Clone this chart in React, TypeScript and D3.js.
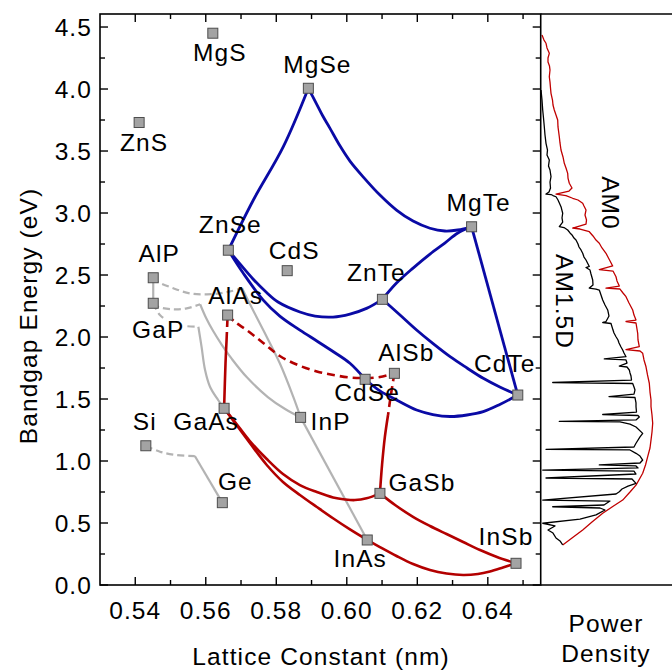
import React from "react";
import * as d3 from "d3";

type Pt = [number, number];

// Binary semiconductors: name, lattice constant (nm), bandgap (eV)
const compoundNames = ["MgS", "MgSe", "ZnS", "ZnSe", "CdS", "AlP", "GaP", "AlAs", "ZnTe", "MgTe", "CdTe", "AlSb", "CdSe", "GaSb", "InAs", "InSb", "InP", "GaAs", "Si", "Ge"];
const latticeConstants = [0.5620, 0.5891, 0.5411, 0.5664, 0.5831, 0.5451, 0.5451, 0.5662, 0.6101, 0.6354, 0.6485, 0.6135, 0.6052, 0.6094, 0.6058, 0.6480, 0.5869, 0.5652, 0.5430, 0.5647];
const bandgaps = [4.45, 4.006, 3.73, 2.70, 2.535, 2.478, 2.272, 2.177, 2.304, 2.889, 1.532, 1.707, 1.659, 0.739, 0.363, 0.175, 1.352, 1.425, 1.123, 0.664];

// Label placement relative to each marker (px): [dx, baseline dy]
const labelOffsets: Record<string, Pt> = {
  MgS: [7, 28], MgSe: [9, -15], ZnS: [5, 29], ZnSe: [2, -17], CdS: [7, -12],
  AlP: [6, -16], GaP: [5, 35], AlAs: [8, -11], ZnTe: [-6, -18], MgTe: [7, -16],
  CdTe: [-13, -23], AlSb: [12, -12], CdSe: [2, 22], GaSb: [42, -2], InAs: [-7, 27],
  InSb: [-10, -18], InP: [30, 13], GaAs: [-18, 22], Si: [-1, -16], Ge: [13, -13],
};

// II-VI alloys
const znSeMgSe: Pt[] = [[0.5664, 2.70], [0.5735, 3.105], [0.5820, 3.535], [0.5891, 4.006]];
const mgSeMgTe: Pt[] = [[0.5891, 4.006], [0.5913, 3.887], [0.5932, 3.782], [0.5952, 3.685], [0.5981, 3.540], [0.6009, 3.419], [0.6047, 3.290], [0.6094, 3.145], [0.6141, 3.024], [0.6188, 2.935], [0.6236, 2.877], [0.6278, 2.855], [0.6315, 2.863], [0.6354, 2.889]];
const znSeZnTe: Pt[] = [[0.5664, 2.70], [0.5697, 2.589], [0.5734, 2.468], [0.5771, 2.363], [0.5805, 2.282], [0.5867, 2.202], [0.5910, 2.169], [0.5961, 2.161], [0.6009, 2.185], [0.6056, 2.231], [0.6101, 2.304]];
const znTeMgTe: Pt[] = [[0.6101, 2.304], [0.6141, 2.435], [0.6188, 2.556], [0.6236, 2.669], [0.6278, 2.758], [0.6315, 2.839], [0.6354, 2.889]];
const znTeCdTe: Pt[] = [[0.6101, 2.304], [0.6151, 2.177], [0.6198, 2.056], [0.6244, 1.948], [0.6293, 1.841], [0.6341, 1.750], [0.6387, 1.667], [0.6434, 1.597], [0.6485, 1.532]];
const mgTeCdTe: Pt[] = [[0.6354, 2.889], [0.6485, 1.532]];
const znSeCdSe: Pt[] = [[0.5664, 2.70], [0.5706, 2.516], [0.5763, 2.298], [0.5810, 2.169], [0.5867, 2.056], [0.5915, 1.968], [0.5962, 1.881], [0.6009, 1.788], [0.6052, 1.659]];
const cdSeCdTe: Pt[] = [[0.6052, 1.659], [0.6094, 1.565], [0.6141, 1.492], [0.6198, 1.411], [0.6244, 1.375], [0.6293, 1.359], [0.6341, 1.371], [0.6387, 1.398], [0.6434, 1.456], [0.6485, 1.532]];

// III-V alloys (direct = solid, indirect = dashed)
const gaAsAlAsDirect: Pt[] = [[0.5652, 1.425], [0.5656, 1.788], [0.5659, 1.976]];
const gaAsAlAsIndirect: Pt[] = [[0.5659, 1.976], [0.5662, 2.177]];
const alAsAlSbIndirect: Pt[] = [[0.5662, 2.177], [0.5683, 2.121], [0.5716, 2.056], [0.5763, 1.952], [0.5810, 1.847], [0.5858, 1.778], [0.5915, 1.722], [0.5962, 1.694], [0.6009, 1.673], [0.6052, 1.669], [0.6094, 1.677], [0.6135, 1.707]];
const alSbGaSbIndirect: Pt[] = [[0.6135, 1.707], [0.6125, 1.532], [0.6117, 1.371]];
const alSbGaSbDirect: Pt[] = [[0.6117, 1.371], [0.6108, 1.194], [0.6100, 0.968], [0.6094, 0.739]];
const gaAsGaSb: Pt[] = [[0.5652, 1.425], [0.5683, 1.315], [0.5725, 1.161], [0.5773, 1.016], [0.5819, 0.895], [0.5867, 0.806], [0.5915, 0.750], [0.5961, 0.706], [0.5995, 0.690], [0.6023, 0.685], [0.6056, 0.699], [0.6094, 0.739]];
const gaAsInAs: Pt[] = [[0.5652, 1.425], [0.5683, 1.306], [0.5725, 1.145], [0.5773, 0.968], [0.5819, 0.831], [0.5867, 0.726], [0.5915, 0.629], [0.5962, 0.536], [0.6009, 0.448], [0.6058, 0.363]];
const gaSbInSb: Pt[] = [[0.6094, 0.739], [0.6139, 0.641], [0.6189, 0.548], [0.6236, 0.476], [0.6283, 0.411], [0.6330, 0.347], [0.6378, 0.282], [0.6426, 0.226], [0.6480, 0.175]];
const inAsInSb: Pt[] = [[0.6058, 0.363], [0.6094, 0.306], [0.6141, 0.234], [0.6188, 0.169], [0.6236, 0.121], [0.6283, 0.093], [0.6330, 0.081], [0.6372, 0.089], [0.6406, 0.109], [0.6443, 0.141], [0.6480, 0.175]];

// Phosphide / arsenide and group-IV alloys
const alPGaP: Pt[] = [[0.5451, 2.478], [0.5451, 2.272]];
const alPInPIndirect: Pt[] = [[0.5451, 2.478], [0.5464, 2.446], [0.5508, 2.393], [0.5555, 2.352], [0.5603, 2.344], [0.5640, 2.352], [0.5674, 2.371], [0.5703, 2.393]];
const alPInPDirect: Pt[] = [[0.5703, 2.393], [0.5731, 2.234], [0.5763, 2.056], [0.5810, 1.788], [0.5848, 1.519], [0.5869, 1.352]];
const gaPInPIndirect: Pt[] = [[0.5451, 2.272], [0.5465, 2.244], [0.5508, 2.223], [0.5546, 2.231], [0.5584, 2.264]];
const gaPInPDirect: Pt[] = [[0.5584, 2.264], [0.5601, 2.153], [0.5621, 2.048], [0.5646, 1.935], [0.5674, 1.823], [0.5716, 1.677], [0.5776, 1.516], [0.5825, 1.419], [0.5869, 1.352]];
const gaPGaAsIndirect: Pt[] = [[0.5451, 2.272], [0.5470, 2.177], [0.5504, 2.113], [0.5541, 2.089], [0.5579, 2.083]];
const gaPGaAsDirect: Pt[] = [[0.5579, 2.083], [0.5588, 1.922], [0.5598, 1.734], [0.5612, 1.599], [0.5635, 1.492], [0.5652, 1.425]];
const inPInAs: Pt[] = [[0.5869, 1.352], [0.6058, 0.363]];
const siGeIndirect: Pt[] = [[0.5430, 1.123], [0.5470, 1.075], [0.5517, 1.048], [0.5569, 1.040]];
const siGeDirect: Pt[] = [[0.5569, 1.040], [0.5647, 0.664]];

// Solar spectra: photon energy (eV) vs power density (arb. units)
const am15dEnergy = [3.992, 3.911, 3.831, 3.766, 3.696, 3.629, 3.562, 3.508, 3.468, 3.427, 3.379, 3.347, 3.293, 3.250, 3.202, 3.169, 3.153, 3.149, 3.141, 3.131, 3.105, 3.051, 2.998, 2.960, 2.927, 2.891, 2.883, 2.863, 2.839, 2.823, 2.798, 2.782, 2.750, 2.726, 2.702, 2.675, 2.645, 2.621, 2.597, 2.569, 2.560, 2.540, 2.508, 2.460, 2.419, 2.395, 2.387, 2.379, 2.339, 2.298, 2.258, 2.218, 2.169, 2.125, 2.117, 2.109, 2.056, 2.032, 2.002, 1.976, 1.952, 1.919, 1.895, 1.871, 1.841, 1.823, 1.815, 1.790, 1.766, 1.758, 1.734, 1.710, 1.685, 1.653, 1.633, 1.625, 1.597, 1.573, 1.540, 1.520, 1.512, 1.468, 1.438, 1.395, 1.375, 1.367, 1.355, 1.331, 1.319, 1.315, 1.298, 1.274, 1.223, 1.194, 1.143, 1.113, 1.094, 1.089, 1.062, 1.040, 1.008, 0.984, 0.968, 0.960, 0.944, 0.927, 0.919, 0.895, 0.863, 0.855, 0.820, 0.798, 0.774, 0.752, 0.734, 0.685, 0.677, 0.645, 0.631, 0.621, 0.605, 0.565, 0.532, 0.498, 0.476, 0.444, 0.419, 0.379, 0.355, 0.323];
const am15dPower = [0.3, 1.3, 2.0, 2.8, 3.6, 4.3, 5.3, 6.8, 6.3, 8.6, 7.8, 9.3, 10.3, 9.3, 9.8, 8.3, 5.3, 10.3, 12.3, 15.3, 17.3, 20.3, 22.0, 21.3, 22.0, 18.6, 23.3, 27.0, 29.3, 31.3, 33.3, 35.3, 37.3, 38.3, 40.3, 42.0, 43.3, 45.3, 46.8, 48.6, 45.3, 49.3, 50.3, 52.0, 52.3, 48.6, 55.3, 58.6, 60.3, 62.0, 64.3, 67.0, 68.3, 65.3, 62.0, 70.3, 72.3, 73.3, 75.3, 77.3, 78.3, 80.3, 82.0, 83.3, 85.3, 63.6, 85.3, 86.3, 78.6, 86.3, 88.6, 89.3, 90.3, 90.8, 12.0, 92.0, 93.3, 94.3, 93.3, 68.3, 94.3, 95.3, 95.3, 95.8, 62.0, 97.3, 98.6, 95.3, 18.6, 79.3, 89.3, 95.3, 102.0, 99.3, 95.3, 93.3, 5.3, 89.3, 95.3, 99.3, 102.0, 99.3, 58.6, 95.3, 97.3, 2.0, 93.3, 95.3, 5.3, 91.3, 95.3, 87.3, 81.3, 78.6, 75.3, 2.0, 69.3, 63.3, 12.0, 59.3, 64.3, 55.3, 39.3, 2.0, 14.3, 7.3, 12.3, 15.3, 19.3, 22.0];
const am0Energy = [4.435, 4.395, 4.369, 4.331, 4.288, 4.250, 4.218, 4.185, 4.153, 4.099, 4.056, 4.008, 3.965, 3.911, 3.871, 3.831, 3.790, 3.750, 3.694, 3.615, 3.565, 3.508, 3.452, 3.401, 3.363, 3.320, 3.282, 3.240, 3.202, 3.177, 3.153, 3.141, 3.119, 3.105, 3.078, 3.056, 3.024, 2.984, 2.944, 2.911, 2.879, 2.871, 2.849, 2.815, 2.782, 2.756, 2.718, 2.675, 2.629, 2.573, 2.544, 2.532, 2.486, 2.452, 2.411, 2.395, 2.387, 2.355, 2.325, 2.274, 2.218, 2.177, 2.137, 2.125, 2.113, 2.030, 1.976, 1.922, 1.899, 1.887, 1.869, 1.815, 1.760, 1.694, 1.627, 1.556, 1.492, 1.438, 1.371, 1.304, 1.234, 1.169, 1.105, 1.035, 0.968, 0.901, 0.855, 0.806, 0.750, 0.685, 0.629, 0.578, 0.508, 0.444, 0.379, 0.323];
const am0Power = [1.3, 3.3, 5.3, 6.3, 8.6, 7.3, 7.3, 8.8, 9.3, 8.6, 9.3, 9.8, 10.3, 11.8, 12.3, 13.6, 15.3, 17.0, 17.3, 18.6, 19.3, 20.3, 22.3, 23.6, 25.3, 27.0, 27.3, 28.6, 31.3, 28.3, 15.3, 25.3, 32.0, 37.3, 42.0, 43.3, 45.3, 44.3, 45.8, 45.3, 32.0, 39.3, 48.6, 52.3, 55.3, 58.6, 61.3, 65.3, 68.3, 72.0, 58.6, 72.3, 75.3, 76.3, 78.6, 65.3, 79.3, 82.3, 85.3, 88.3, 92.0, 93.3, 95.3, 85.3, 95.3, 97.0, 97.3, 98.6, 85.3, 99.3, 102.0, 103.3, 105.3, 106.8, 108.6, 109.3, 110.3, 110.3, 111.3, 112.0, 111.3, 110.3, 109.3, 107.0, 104.8, 102.0, 98.8, 95.3, 89.3, 82.0, 71.3, 62.0, 51.3, 42.0, 31.3, 22.0];

// Axis ticks
const xMajorTicks = [0.54, 0.56, 0.58, 0.60, 0.62, 0.64];
const xMinorTicks = [0.55, 0.57, 0.59, 0.61, 0.63, 0.65];
const yMajorTicks = [0, 0.5, 1.0, 1.5, 2.0, 2.5, 3.0, 3.5, 4.0, 4.5];
const yMinorTicks = [0.25, 0.75, 1.25, 1.75, 2.25, 2.75, 3.25, 3.75, 4.25];

const W = 672;
const H = 672;
const plot = { left: 100, right: 540.7, top: 14, bottom: 585 };
const panelRight = 672;

const FONT = "'Liberation Sans', Arial, Helvetica, sans-serif";
const BLUE = "#0a0aa5";
const RED = "#b30000";
const GRAY = "#b3b3b3";

export default function App() {
  const x = d3.scaleLinear().domain([0.53, 0.655]).range([plot.left, plot.right]);
  const y = d3.scaleLinear().domain([0, 4.605]).range([plot.bottom, plot.top]);
  const p = d3.scaleLinear().domain([0, 131.3]).range([plot.right, panelRight]);

  const curve = d3
    .line<Pt>()
    .x((d) => x(d[0]))
    .y((d) => y(d[1]))
    .curve(d3.curveCatmullRom.alpha(0.5));

  const spectrum = (energy: number[], power: number[]) =>
    d3
      .line<number>()
      .x((i) => p(power[i]))
      .y((i) => y(energy[i]))(d3.range(energy.length)) || "";

  const grayDashed = [alPInPIndirect, gaPInPIndirect, gaPGaAsIndirect, siGeIndirect];
  const graySolid = [alPGaP, alPInPDirect, gaPInPDirect, gaPGaAsDirect, inPInAs, siGeDirect];
  const redSolid = [gaAsAlAsDirect, alSbGaSbDirect, gaAsGaSb, gaAsInAs, gaSbInSb, inAsInSb];
  const redDashed = [gaAsAlAsIndirect, alAsAlSbIndirect, alSbGaSbIndirect];
  const blueSolid = [znSeMgSe, mgSeMgTe, znSeZnTe, znTeMgTe, znTeCdTe, mgTeCdTe, znSeCdSe, cdSeCdTe];

  const textStyle: React.CSSProperties = { fontFamily: FONT, fontSize: 24.5, letterSpacing: 1.1 };
  const mk = 10;

  return (
    <div style={{ position: "fixed", left: 0, top: 0, width: W, height: H, background: "#fff" }}>
      <svg width={W} height={H} viewBox={`0 0 ${W} ${H}`} style={{ display: "block" }}>
        <rect x={0} y={0} width={W} height={H} fill="#fff" />
        <defs>
          <clipPath id="panelClip">
            <rect x={plot.right} y={plot.top} width={panelRight - plot.right} height={plot.bottom - plot.top} />
          </clipPath>
        </defs>

        {/* alloy curves */}
        <g fill="none" strokeLinecap="butt" strokeLinejoin="round">
          {graySolid.map((d, i) => (
            <path key={`gs${i}`} d={curve(d) || ""} stroke={GRAY} strokeWidth={2.2} />
          ))}
          {grayDashed.map((d, i) => (
            <path key={`gd${i}`} d={curve(d) || ""} stroke={GRAY} strokeWidth={2.2} strokeDasharray="7,4" />
          ))}
          {redSolid.map((d, i) => (
            <path key={`rs${i}`} d={curve(d) || ""} stroke={RED} strokeWidth={2.6} />
          ))}
          {redDashed.map((d, i) => (
            <path key={`rd${i}`} d={curve(d) || ""} stroke={RED} strokeWidth={2.6} strokeDasharray="8,5" />
          ))}
          {blueSolid.map((d, i) => (
            <path key={`b${i}`} d={curve(d) || ""} stroke={BLUE} strokeWidth={2.8} />
          ))}
        </g>

        {/* binary compound markers */}
        <g>
          {compoundNames.map((n, i) => (
            <rect
              key={n}
              x={x(latticeConstants[i]) - mk / 2}
              y={y(bandgaps[i]) - mk / 2}
              width={mk}
              height={mk}
              fill="#a3a3a3"
              stroke="#4d4d4d"
              strokeWidth={1}
            />
          ))}
        </g>

        {/* compound labels */}
        <g style={textStyle} fill="#000" textAnchor="middle">
          {compoundNames.map((n, i) => {
            const [dx, dy] = labelOffsets[n];
            const halo = n === "GaP";
            return (
              <text
                key={n}
                x={x(latticeConstants[i]) + dx}
                y={y(bandgaps[i]) + dy}
                stroke={halo ? "#fff" : "none"}
                strokeWidth={halo ? 6 : 0}
                paintOrder="stroke"
              >
                {n}
              </text>
            );
          })}
        </g>

        {/* solar spectra */}
        <g clipPath="url(#panelClip)" fill="none" strokeLinejoin="round">
          <path d={spectrum(am0Energy, am0Power)} stroke="#c00000" strokeWidth={1.3} />
          <path d={spectrum(am15dEnergy, am15dPower)} stroke="#000" strokeWidth={1.3} />
        </g>
        <g style={textStyle} fill="#000" textAnchor="middle">
          <text transform={`translate(602,203) rotate(90)`}>AM0</text>
          <text transform={`translate(556,301.5) rotate(90)`}>AM1.5D</text>
        </g>

        {/* frame */}
        <g stroke="#000" strokeWidth={1.6} fill="none">
          <rect x={plot.left} y={plot.top} width={plot.right - plot.left} height={plot.bottom - plot.top} />
          <line x1={plot.right} y1={plot.top} x2={panelRight} y2={plot.top} />
          <line x1={plot.right} y1={plot.bottom} x2={panelRight} y2={plot.bottom} />
        </g>

        {/* ticks */}
        <g stroke="#000" strokeWidth={1.4}>
          {xMajorTicks.map((t) => (
            <g key={`xm${t}`}>
              <line x1={x(t)} x2={x(t)} y1={plot.bottom} y2={plot.bottom - 8} />
              <line x1={x(t)} x2={x(t)} y1={plot.top} y2={plot.top + 8} />
            </g>
          ))}
          {xMinorTicks.map((t) => (
            <g key={`xn${t}`}>
              <line x1={x(t)} x2={x(t)} y1={plot.bottom} y2={plot.bottom - 5} />
              <line x1={x(t)} x2={x(t)} y1={plot.top} y2={plot.top + 5} />
            </g>
          ))}
          {yMajorTicks.map((t) => (
            <g key={`ym${t}`}>
              <line x1={plot.left} x2={plot.left + 8} y1={y(t)} y2={y(t)} />
              <line x1={plot.right} x2={plot.right - 8} y1={y(t)} y2={y(t)} />
            </g>
          ))}
          {yMinorTicks.map((t) => (
            <g key={`yn${t}`}>
              <line x1={plot.left} x2={plot.left + 5} y1={y(t)} y2={y(t)} />
              <line x1={plot.right} x2={plot.right - 5} y1={y(t)} y2={y(t)} />
            </g>
          ))}
        </g>

        {/* tick labels */}
        <g style={textStyle} fill="#000">
          {xMajorTicks.map((t) => (
            <text key={`xl${t}`} x={x(t)} y={619} textAnchor="middle">
              {d3.format(".2f")(t)}
            </text>
          ))}
          {yMajorTicks.map((t) => (
            <text key={`yl${t}`} x={92} y={y(t) + 8.5} textAnchor="end">
              {d3.format(".1f")(t)}
            </text>
          ))}
        </g>

        {/* axis titles */}
        <g style={textStyle} fill="#000" textAnchor="middle">
          <text x={321} y={665}>Lattice Constant (nm)</text>
          <text transform="translate(37,316) rotate(-90)">Bandgap Energy (eV)</text>
          <text x={606} y={632}>Power</text>
          <text x={606} y={662}>Density</text>
        </g>
      </svg>
    </div>
  );
}
